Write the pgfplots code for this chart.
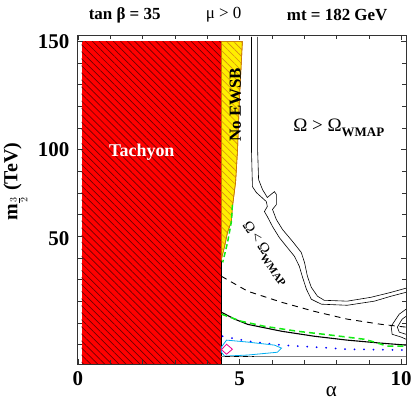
\documentclass[border=0pt]{standalone}
\usepackage{fontspec}
\setmainfont{Liberation Serif}
\usepackage{pgfplots}
\pgfplotsset{compat=1.18}
\usetikzlibrary{patterns.meta}

\definecolor{hatchred}{RGB}{110,0,0}
\definecolor{ewsbyellow}{RGB}{255,238,0}
\definecolor{hatchorange}{RGB}{215,140,20}
\definecolor{wmapgreen}{RGB}{20,235,20}

\begin{document}
\begin{tikzpicture}
\begin{axis}[
  width=329pt, height=330pt, scale only axis,
  xmin=0, xmax=10.15, ymin=0.9, ymax=153,
  xtick={0,5,10}, xticklabels={0,5,10},
  minor xtick={1,2,3,4,6,7,8,9},
  ytick={100,150}, yticklabels={100,150},
  extra y ticks={50}, extra y tick labels={50},
  extra y tick style={yticklabel style={yshift=19pt}},
  minor ytick={10,20,...,140},
  tick align=inside,
  major tick length=5pt, minor tick length=4pt,
  tick style={black!80, line width=0.6pt},
  tick label style={font=\fontsize{21}{21}\selectfont\bfseries},
  xticklabel style={yshift=-4pt},
  yticklabel style={xshift=-5pt},
  axis line style={line width=0.8pt, black!80},
  clip=false,
  axis on top,
]
% tachyon region
\addplot[draw=none, fill=red,
  postaction={pattern={Lines[angle=-45,distance=5pt,line width=0.7pt]}, pattern color=hatchred}]
  coordinates {(0.12,0.9) (4.44,0.9) (4.44,150) (0.12,150)} -- cycle;
\addplot[black, line width=0.8pt] coordinates {(4.44,0.9) (4.44,150)};
% no EWSB region
\addplot[draw={rgb,255:red,200;green,120;blue,0}, line width=0.6pt, fill=ewsbyellow,
  postaction={pattern={Lines[angle=-45,distance=5pt,line width=0.6pt]}, pattern color=hatchorange}]
  coordinates {(4.44,150) (5.09,150) (5.00,124) (4.94,100) (4.88,85) (4.78,73.3)
               (4.75,66.8) (4.63,61.8) (4.54,55.3) (4.44,49.3)} -- cycle;
% WMAP band, two edges
\addplot[black, line width=0.6pt] coordinates {
  (5.37,152.1) (5.37,100) (5.40,82.9) (5.52,80.2) (5.83,76.0) (5.86,73.7) (5.77,71.4)
  (5.86,69.1) (6.02,64.5) (6.23,59.4) (6.45,55.3) (6.70,50.7) (6.85,46.1) (6.94,41.5)
  (7.07,35.5) (7.22,30.9) (7.53,28.6) (8.33,28.1) (9.17,30.0) (9.69,32.3) (10.15,34.1)};
\addplot[black, line width=0.6pt] coordinates {
  (5.56,152.1) (5.56,100) (5.59,86.2) (5.71,81.6) (5.86,77.9) (6.08,80.6) (6.14,79.3)
  (6.14,74.6) (6.02,72.4) (6.14,67.7) (6.33,63.1) (6.64,57.6) (6.91,52.5) (7.01,47.9)
  (7.10,41.5) (7.22,36.4) (7.41,32.3) (7.62,30.4) (8.33,30.0) (9.07,31.8) (9.69,34.1)
  (10.15,36.0)};
% small loops at the right edge
\addplot[black, line width=0.6pt] coordinates {
  (10.15,26.3) (9.94,24.0) (9.69,18.4) (9.72,14.7) (10.0,13.4) (10.15,12.4)};
\addplot[black, line width=0.6pt] coordinates {
  (10.15,23.0) (10.03,21.7) (9.88,18.0) (9.94,15.7) (10.15,14.7)};
% dashed black
\addplot[black, line width=0.9pt, dash pattern=on 6pt off 5pt] coordinates {
  (4.44,41.5) (5.25,34.6) (6.30,29.5) (7.31,25.3) (8.33,21.7) (9.38,19.3) (10.15,18.0)};
% solid black
\addplot[black, line width=1.1pt] coordinates {
  (4.44,24.9) (4.85,21.7) (5.25,19.3) (6.30,16.1) (7.31,13.8) (8.33,12.0) (9.38,10.6) (10.15,9.7)};
% green dashed
\addplot[wmapgreen, line width=1.5pt, dash pattern=on 6pt off 4pt] coordinates {
  (4.44,24.0) (5.06,20.7) (5.77,18.4) (6.79,16.1) (7.84,14.3) (8.86,12.4) (9.17,11.1)
  (9.57,9.2) (10.15,9.2)};
\addplot[wmapgreen, line width=1.5pt, dash pattern=on 5pt off 3pt] coordinates {
  (4.78,74.5) (4.75,66.8) (4.63,57.1) (4.48,47.9)};
% blue dotted
\addplot[blue, line width=2pt, line cap=round, dash pattern=on 0pt off 9.5pt] coordinates {
  (4.48,13.8) (5.25,11.5) (6.30,9.7) (7.31,8.8) (8.33,7.8) (10.15,7.4)};
% cyan contour
\addplot[cyan, line width=0.8pt] coordinates {
  (4.44,8.8) (4.60,12.0) (5.25,11.1) (6.08,9.7) (6.30,8.3) (6.17,6.4) (5.25,5.1)
  (4.54,4.6) (4.44,6.4)} -- cycle;
% magenta diamond
\addplot[magenta, line width=0.8pt] coordinates {
  (4.60,10.1) (4.78,7.8) (4.60,5.5) (4.44,7.6)} -- cycle;
% bottom lines
\addplot[gray, line width=0.8pt] coordinates {(4.44,4.3) (10.15,4.3)};
\addplot[black, line width=0.9pt, dash pattern=on 5pt off 4pt] coordinates {(4.55,4.6) (5.45,4.6)};

% labels inside
\node[text=white, font=\fontsize{18}{18}\selectfont\bfseries] at (axis cs:1.98,98.6) {Tachyon};
\node[rotate=90, font=\fontsize{17}{17}\selectfont\bfseries] at (axis cs:4.87,120.7) {No EWSB};
\node[anchor=base west, inner sep=0pt, font=\fontsize{19}{19}\selectfont] at (axis cs:6.66,108.3)
  {Ω > Ω\raisebox{-5pt}{\fontsize{13}{13}\selectfont\bfseries WMAP}};
\node[rotate=-55, inner sep=0pt, font=\fontsize{15}{15}\selectfont] at (axis cs:5.80,52.1)
  {Ω\kern3pt<\kern3ptΩ\raisebox{-4pt}{\fontsize{11}{11}\selectfont\bfseries WMAP}};

% titles and axis labels
\node[font=\fontsize{17}{17}\selectfont\bfseries] at (axis cs:1.45,162.2) {tan β = 35};
\node[font=\fontsize{17}{17}\selectfont] at (axis cs:4.51,162.2) {μ > 0};
\node[font=\fontsize{17}{17}\selectfont\bfseries] at (axis cs:8.02,162.2) {mt = 182 GeV};
\node[font=\fontsize{21}{21}\selectfont] at (axis cs:7.84,-12.0) {α};
\node[rotate=90, font=\fontsize{20}{20}\selectfont\bfseries] at (axis cs:-1.93,85.2)
  {m$_{\frac{3}{2}}$ (TeV)};
\end{axis}
\path ([xshift=-78pt,yshift=-36pt]current axis.south west)
  rectangle ([xshift=8pt,yshift=35pt]current axis.north east);
\end{tikzpicture}
\end{document}
